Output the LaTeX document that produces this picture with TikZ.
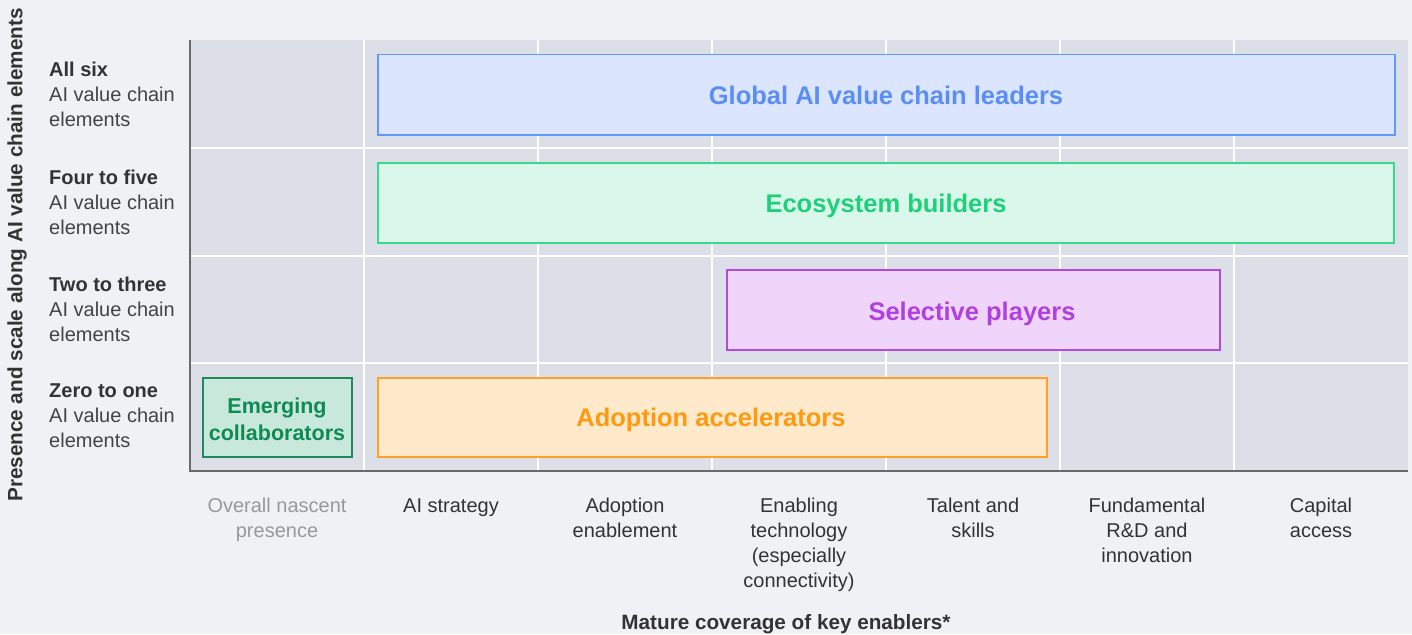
\documentclass[tikz,border=0pt]{standalone}
\usepackage{fontspec}
\setmainfont{Liberation Sans}
\begin{document}
\definecolor{pagebg}{HTML}{F0F1F5}
\definecolor{plotbg}{HTML}{DCDFE7}
\definecolor{axisc}{HTML}{6A6A6A}
\definecolor{labdark}{HTML}{333333}
\definecolor{labreg}{HTML}{444444}
\definecolor{labgray}{HTML}{999999}
\definecolor{blueS}{HTML}{6298FA}\definecolor{blueF}{HTML}{DBE6FE}\definecolor{blueT}{HTML}{5B8EF5}
\definecolor{greenS}{HTML}{38DA8C}\definecolor{greenF}{HTML}{D9F7EA}\definecolor{greenT}{HTML}{1FD07A}
\definecolor{purpS}{HTML}{B248E0}\definecolor{purpF}{HTML}{EED5F9}\definecolor{purpT}{HTML}{B040E0}
\definecolor{orS}{HTML}{FFA124}\definecolor{orF}{HTML}{FFE9CB}\definecolor{orT}{HTML}{FF9A10}
\definecolor{emS}{HTML}{1E8A5B}\definecolor{emF}{HTML}{C9E8DC}\definecolor{emT}{HTML}{0E8A55}
\begin{tikzpicture}[x=1pt,y=-1pt,
  rowlab/.style={anchor=west,align=left,inner sep=0pt,font=\fontsize{20}{25}\selectfont,text=labreg},
  collab/.style={anchor=base,align=center,inner sep=0pt,font=\fontsize{20}{25}\selectfont,text=labdark},
  band/.style={anchor=north west,inner sep=0pt,line width=1.5pt},
  bandtext/.style={inner sep=0pt,font=\bfseries\fontsize{25.5}{30}\selectfont},
  axtitle/.style={inner sep=0pt,font=\bfseries\fontsize{20.7}{24}\selectfont,text=labdark}]
% page and plot area
\fill[pagebg] (0,0) rectangle (1412,634);
\useasboundingbox (0,0) rectangle (1412,634);
\fill[plotbg] (190,40) rectangle (1408,470);
% white grid
\foreach \gx in {364,538,712,886,1060,1234}
  \draw[white,line width=2pt] (\gx,40) -- (\gx,470);
\foreach \gy in {148,256,363}
  \draw[white,line width=2pt] (190,\gy) -- (1408,\gy);
% axes
\draw[axisc,line width=2pt] (190,40) -- (190,471) -- (1408,471);
% bands
\node[band,draw=blueS,fill=blueF,minimum width=1017pt,minimum height=80pt] (glob) at (377,54) {};
\node[bandtext,text=blueT] (globt) at (886,95) {Global AI value chain leaders};
\node[band,draw=greenS,fill=greenF,minimum width=1016pt,minimum height=80pt] (eco) at (377,162) {};
\node[bandtext,text=greenT] (ecot) at (886,206) {Ecosystem builders};
\node[band,draw=purpS,fill=purpF,minimum width=493pt,minimum height=80pt] (sel) at (726,269) {};
\node[bandtext,text=purpT] (selt) at (972,314) {Selective players};
\node[band,draw=orS,fill=orF,minimum width=669pt,minimum height=79pt] (adop) at (377,377) {};
\node[bandtext,text=orT] (adopt) at (711,420) {Adoption accelerators};
\node[band,draw=emS,fill=emF,minimum width=149pt,minimum height=79pt] (emer) at (202,377) {};
\node[text=emT,align=center,inner sep=0pt,font=\bfseries\fontsize{21.5}{27}\selectfont] (emert) at (277,419) {Emerging\\collaborators};
% row labels
\node[rowlab] (r1) at (49,94) {\textbf{\color{labdark}All six}\\AI value chain\\elements};
\node[rowlab] (r2) at (49,202) {\textbf{\color{labdark}Four to five}\\AI value chain\\elements};
\node[rowlab] (r3) at (49,309) {\textbf{\color{labdark}Two to three}\\AI value chain\\elements};
\node[rowlab] (r4) at (49,416) {\textbf{\color{labdark}Zero to one}\\AI value chain\\elements};
% column labels (anchored at the baseline of their last line)
\node[collab,text=labgray] (c1) at (277,537) {Overall nascent\\presence};
\node[collab] (c2) at (451,512) {AI strategy};
\node[collab] (c3) at (625,537) {Adoption\\enablement};
\node[collab] (c4) at (799,587) {Enabling\\technology\\(especially\\connectivity)};
\node[collab] (c5) at (973,537) {Talent and\\skills};
\node[collab] (c6) at (1147,562) {Fundamental\\R\&D and\\innovation};
\node[collab] (c7) at (1321,537) {Capital\\access};
% axis titles
\node[axtitle,anchor=base] (xt) at (786,629) {Mature coverage of key enablers*};
\node[axtitle,rotate=90] (yt) at (17,255) {Presence and scale along AI value chain elements};
\end{tikzpicture}
\end{document}
